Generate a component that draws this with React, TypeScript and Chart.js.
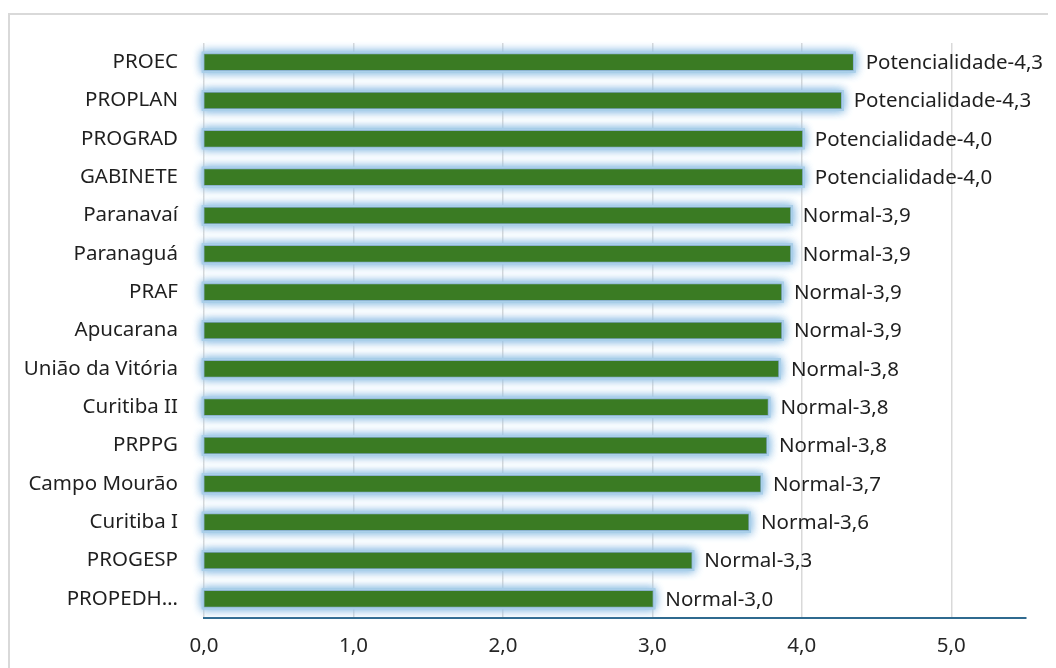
import React, { useEffect, useRef } from "react";
import { Chart, registerables } from "chart.js";

Chart.register(...registerables);

const categories = [
  "PROEC",
  "PROPLAN",
  "PROGRAD",
  "GABINETE",
  "Paranavaí",
  "Paranaguá",
  "PRAF",
  "Apucarana",
  "União da Vitória",
  "Curitiba II",
  "PRPPG",
  "Campo Mourão",
  "Curitiba I",
  "PROGESP",
  "PROPEDH…",
];

const scores = [4.34, 4.26, 4.0, 4.0, 3.92, 3.92, 3.86, 3.86, 3.84, 3.77, 3.76, 3.72, 3.64, 3.26, 3.0];

const classes = [
  "Potencialidade",
  "Potencialidade",
  "Potencialidade",
  "Potencialidade",
  "Normal",
  "Normal",
  "Normal",
  "Normal",
  "Normal",
  "Normal",
  "Normal",
  "Normal",
  "Normal",
  "Normal",
  "Normal",
];

const xTicks = [0, 1, 2, 3, 4, 5];

const FONT = "'Noto Sans', sans-serif";

const fmt = (v: number) => v.toFixed(1).replace(".", ",");

const glowPlugin = {
  id: "glow",
  beforeDatasetsDraw(chart: any) {
    const ctx = chart.ctx;
    const meta = chart.getDatasetMeta(0);
    ctx.save();
    ctx.shadowOffsetX = 0;
    ctx.shadowOffsetY = 0;
    for (let pass = 0; pass < 2; pass++) {
      ctx.shadowColor = "rgba(150,195,230,1)";
      ctx.shadowBlur = 10;
      ctx.fillStyle = "rgba(170,207,233,1)";
      meta.data.forEach((bar: any) => {
        const left = Math.min(bar.x, bar.base);
        const w = Math.abs(bar.x - bar.base);
        const h = bar.height;
        ctx.fillRect(left - 3, bar.y - h / 2 - 3, w + 6, h + 6);
      });
    }
    ctx.restore();
    ctx.save();
    ctx.strokeStyle = "rgba(120,160,190,0.9)";
    ctx.lineWidth = 1;
    meta.data.forEach((bar: any) => {
      const left = Math.min(bar.x, bar.base);
      const w = Math.abs(bar.x - bar.base);
      const h = bar.height;
      ctx.strokeRect(left - 0.5, bar.y - h / 2 - 0.5, w + 1, h + 1);
    });
    ctx.restore();
  },
  afterDatasetsDraw(chart: any) {
    const ctx = chart.ctx;
    const meta = chart.getDatasetMeta(0);
    ctx.save();
    ctx.font = `20.5px ${FONT}`;
    ctx.fillStyle = "#1f1f1f";
    ctx.textAlign = "left";
    ctx.textBaseline = "middle";
    meta.data.forEach((bar: any, i: number) => {
      const text = `${classes[i]}-${fmt(scores[i])}`;
      ctx.fillText(text, bar.x + 13, bar.y + 1);
    });
    ctx.restore();
  },
};

export default function App() {
  const ref = useRef<HTMLCanvasElement>(null);

  useEffect(() => {
    if (!ref.current) return;
    const chart = new Chart(ref.current, {
      type: "bar",
      data: {
        labels: categories,
        datasets: [
          {
            data: scores,
            backgroundColor: "#3a7b23",
            borderWidth: 0,
            barThickness: 15,
          },
        ],
      },
      options: {
        indexAxis: "y",
        animation: false,
        responsive: false,
        maintainAspectRatio: false,
        layout: { padding: { left: 0, right: 30, top: 28, bottom: 0 } },
        plugins: {
          legend: { display: false },
          tooltip: { enabled: false },
        },
        scales: {
          x: {
            min: 0,
            max: 5.5,
            afterBuildTicks: (scale: any) => {
              scale.ticks = xTicks.map((v) => ({ value: v }));
            },
            afterFit: (scale: any) => {
              scale.height = 50;
              scale.paddingLeft = 0;
              scale.paddingRight = 0;
            },
            grid: { color: "#d9d9d9", lineWidth: 1.5, drawTicks: false },
            border: { display: true, color: "#2f6a8f", width: 2 },
            ticks: {
              padding: 16,
              color: "#262626",
              font: { family: FONT, size: 20.5 },
              callback: (v: any) => fmt(Number(v)),
            },
          },
          y: {
            afterFit: (scale: any) => {
              scale.width = 194;
              scale.paddingTop = 0;
              scale.paddingBottom = 0;
            },
            grid: { display: false, drawTicks: false },
            border: { display: false },
            ticks: {
              padding: 26,
              color: "#1f1f1f",
              font: { family: FONT, size: 20.5 },
            },
          },
        },
      },
      plugins: [glowPlugin],
    });
    return () => chart.destroy();
  }, []);

  return (
    <div style={{ paddingTop: 5 }}>
      <div
        style={{
          boxSizing: "border-box",
          width: 1048,
          height: 655,
          borderTop: "2px solid #d9d9d9",
          borderLeft: "2px solid #d9d9d9",
          background: "#fff",
        }}
      >
        <canvas ref={ref} width={1046} height={653} style={{ display: "block" }} />
      </div>
    </div>
  );
}
